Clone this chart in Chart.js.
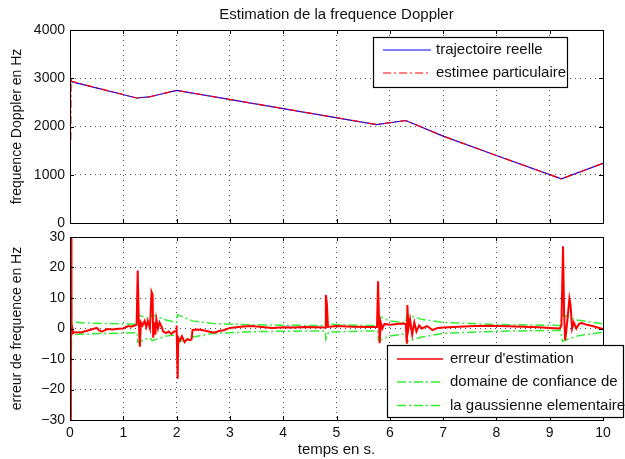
<!DOCTYPE html>
<html>
<head>
<meta charset="utf-8">
<script src="https://cdn.jsdelivr.net/npm/chart.js"></script>
<style>
html, body { margin: 0; padding: 0; background: #fff; }
#wrap { position: relative; width: 625px; height: 459px; }
canvas { position: absolute; left: 0; }
#Chart1 { top: 0; }
#Chart2 { top: 230px; }
</style>
</head>
<body>
<div id="wrap">
    <canvas id="Chart1" width="625" height="230"></canvas>
    <canvas id="Chart2" width="625" height="229"></canvas>
</div>
<script>
// graphe du haut : frequence Doppler
var tVrai = [0, 1.25, 1.48, 2.0, 5.75, 6.3, 7.0, 8.0, 9.22, 10];
var fVrai = [2935, 2591, 2612, 2749, 2041, 2124, 1800, 1400, 914, 1237];
var tEstime = [0.015, 0.02, 0.03, 1.25, 1.48, 2.0, 5.75, 6.3, 7.0, 8.0, 9.22, 10];
var fEstime = [1720, 3010, 2935, 2591, 2612, 2749, 2041, 2124, 1800, 1400, 914, 1237];

// graphe du bas : erreur d'estimation
var tErreur = [0.015, 0.02, 0.025, 0.03, 0.04, 0.06, 0.1, 0.2, 0.3, 0.4, 0.5, 0.55, 0.6, 0.7, 0.8, 0.9, 1.0, 1.05, 1.1, 1.15, 1.2, 1.25,
    1.27, 1.29, 1.31, 1.33, 1.36, 1.4, 1.43, 1.46, 1.5, 1.53, 1.55, 1.56, 1.58, 1.6, 1.62, 1.65, 1.68, 1.72, 1.75, 1.8, 1.85, 1.9, 1.95, 1.99,
    2.0, 2.01, 2.02, 2.03, 2.06, 2.1, 2.15, 2.2, 2.25, 2.28, 2.3, 2.4, 2.5, 2.6, 2.7, 2.8, 2.9, 3.0, 3.2, 3.4, 3.6, 3.8, 4.0, 4.2, 4.4, 4.6,
    4.79, 4.8, 4.82, 4.84, 5.0, 5.3, 5.6, 5.76, 5.78, 5.8, 5.81, 5.83, 5.86, 5.9, 6.0, 6.1, 6.2, 6.3, 6.32, 6.33, 6.35, 6.38, 6.42, 6.46,
    6.5, 6.55, 6.6, 6.7, 6.8, 6.9, 7.0, 7.3, 7.6, 7.9, 8.2, 8.5, 8.8, 9.0, 9.19, 9.22, 9.25, 9.27, 9.29, 9.31, 9.35, 9.37, 9.39, 9.42,
    9.45, 9.5, 9.55, 9.6, 9.7, 9.8, 9.9, 10];
var eErreur = [-30, 30, 3.5, -2, 0.5, -1.5, -1.2, -1.3, -0.8, -0.3, 0.2, -0.6, -1.0, -0.2, -0.3, -0.1, 0.0, 0.5, 0.8, 0.6, 0.9, 1.2,
    19, 3, -6, 2, 1, 2.5, 0.5, 2.5, 0, 12, 11, -3, 2, -2, 3, 0, 2, 0.5, -1, -1.5, -1, -1.8, -1, -1,
    1, -9, -16.5, -3, -4, -2.5, -4.5, -3.5, -3.8, -3.5, -0.5, -0.3, -0.6, -1.0, -1.4, -0.8, -0.5, 0.2, 0.6, 0.8, 0.5, 0.2, 0.4, 0.3, 0.5, 0.4,
    0.3, 11, 8, 0.5, 0.8, 0.6, 0.5, 0.5, 15.5, 1, -4.8, 2, 0, 1.5, 1.2, 1.4, 1.6, 1.5, -5, 7.7, 0, 3, -2, 2,
    -1, 1, 0, 0.8, -0.5, 0.2, 0.3, 0.6, 0.8, 0.9, 0.7, 0.6, 0.4, 0.2, 0.0, 1, 27, 5, -3.8, -1, 6, 9.9, 8, 0,
    2, 0, 1.5, 1.8, 1.2, 0.8, 0.3, -0.2];

// bornes du domaine de confiance
var tBorne = [0.01, 0.015, 0.03, 0.3, 1.0, 1.26, 1.27, 1.5, 1.54, 1.8, 2.0, 2.02, 2.3, 2.7, 3.5, 4.5, 4.79, 4.8, 4.85, 5.5, 5.77, 5.79,
    6.0, 6.3, 6.32, 6.6, 7.0, 8.0, 9.2, 9.24, 9.5, 10];
var bHaute = [-30, 30, 2.2, 1.8, 1.5, 1.4, 4.5, 3.0, 4.5, 2.8, 2.0, 4.5, 2.5, 1.6, 1.2, 1.0, 1.0, 3.5, 1.4, 1.0, 1.0, 4.0,
    2.5, 1.9, 4.5, 3.0, 2.0, 1.3, 1.0, 4.5, 2.8, 1.5];
var bBasse = [30, -30, -2.0, -1.8, -1.5, -1.4, -4.5, -3.0, -4.0, -2.5, -2.0, -4.5, -2.8, -1.6, -1.0, -0.8, -0.8, -3.5, -1.2, -0.8, -0.8, -4.0,
    -2.5, -1.7, -4.2, -2.8, -1.6, -0.9, -0.6, -4.2, -2.5, -1.2];

var xTicks = [0, 1, 2, 3, 4, 5, 6, 7, 8, 9, 10];

Chart.defaults.font.family = "'Liberation Sans', Arial, sans-serif";
Chart.defaults.font.size = 14;
Chart.defaults.color = '#111';

function points(tx, ty) {
    var res = [];
    for (var i = 0; i < tx.length; i++) {
        res.push({ x: tx[i], y: ty[i] });
    }
    return res;
}

var cadrePlugin = {
    id: 'cadre',
    afterDraw: function (chart, args, opts) {
        var ctx = chart.ctx;
        var a = chart.chartArea;
        var xs = chart.scales.x;
        var ys = chart.scales.y;
        ctx.save();
        ctx.strokeStyle = '#000';
        ctx.lineWidth = 1;
        ctx.beginPath();
        xs.ticks.forEach(function (t) {
            var px = Math.round(xs.getPixelForValue(t.value)) + 0.5;
            ctx.moveTo(px, a.bottom); ctx.lineTo(px, a.bottom - 4);
            ctx.moveTo(px, a.top); ctx.lineTo(px, a.top + 4);
        });
        ys.ticks.forEach(function (t) {
            var py = Math.round(ys.getPixelForValue(t.value)) + 0.5;
            ctx.moveTo(a.left, py); ctx.lineTo(a.left + 4, py);
            ctx.moveTo(a.right, py); ctx.lineTo(a.right - 4, py);
        });
        ctx.stroke();
        ctx.strokeRect(Math.round(a.left) + 0.5, Math.round(a.top) + 0.5, Math.round(a.right - a.left), Math.round(a.bottom - a.top));

        var lg = opts.legende;
        if (lg) {
            ctx.fillStyle = '#fff';
            ctx.fillRect(lg.x, lg.y, lg.w, lg.h);
            ctx.strokeStyle = '#000';
            ctx.lineWidth = 1.2;
            ctx.strokeRect(lg.x + 0.5, lg.y + 0.5, lg.w, lg.h);
            ctx.font = "15px 'Liberation Sans', Arial, sans-serif";
            ctx.textBaseline = 'middle';
            ctx.textAlign = 'left';
            lg.lignes.forEach(function (l) {
                var ds = chart.data.datasets[l.ds];
                ctx.beginPath();
                ctx.strokeStyle = ds.borderColor;
                ctx.lineWidth = l.epaisseur || 1;
                ctx.setLineDash(ds.borderDash || []);
                ctx.moveTo(lg.x1, l.y);
                ctx.lineTo(lg.x2, l.y);
                ctx.stroke();
                ctx.setLineDash([]);
                ctx.fillStyle = '#111';
                ctx.fillText(ds.label, lg.xt, l.y);
            });
        }
        ctx.restore();
    }
};

function fixeLargeur(scale) {
    scale.width = 70;
    scale.paddingTop = 0;
    scale.paddingBottom = 0;
}

function sansVirgule(value) {
    return String(value).replace('-', '\u2212');
}

var grille = {
    color: 'rgba(0,0,0,0.7)',
    drawTicks: false
};
var bord = { display: false, dash: [1, 4] };

var Chart1 = new Chart(document.getElementById('Chart1'), {
    type: 'line',
    data: {
        datasets: [{
            label: 'trajectoire reelle',
            data: points(tVrai, fVrai),
            borderColor: '#0000ff',
            borderWidth: 1.2,
            order: 1,
        }, {
            label: 'estimee particulaire',
            data: points(tEstime, fEstime),
            borderColor: '#ff0000',
            borderWidth: 1.2,
            borderDash: [8, 3, 2, 3],
            order: 0,
        }]
    },
    options: {
        responsive: false,
        animation: false,
        elements: { point: { radius: 0 }, line: { tension: 0 } },
        layout: { padding: { left: 0, right: 22, top: 0, bottom: 7 } },
        plugins: {
            legend: { display: false },
            tooltip: { enabled: false },
            title: {
                display: true,
                text: 'Estimation de la frequence Doppler',
                fullSize: false,
                color: '#111',
                font: { size: 15, weight: 'normal' },
                padding: { top: 6, bottom: 6 }
            },
            cadre: {
                legende: {
                    x: 373, y: 37, w: 194, h: 50, x1: 383, x2: 431, xt: 436,
                    lignes: [{ ds: 0, y: 50 }, { ds: 1, y: 73 }]
                }
            }
        },
        scales: {
            x: {
                type: 'linear', min: 0, max: 10,
                afterBuildTicks: function (scale) { scale.ticks = xTicks.map(function (v) { return { value: v }; }); },
                ticks: { display: false },
                grid: grille, border: bord,
                afterFit: function (scale) { scale.height = 0; }
            },
            y: {
                min: 0, max: 4000,
                ticks: { stepSize: 1000, padding: 5, color: '#111', callback: sansVirgule },
                grid: grille, border: bord,
                title: { display: true, text: 'frequence Doppler en Hz', color: '#111', font: { size: 14 }, padding: { top: 9, bottom: 0 } },
                afterFit: fixeLargeur
            }
        }
    },
    plugins: [cadrePlugin]
});

var Chart2 = new Chart(document.getElementById('Chart2'), {
    type: 'line',
    data: {
        datasets: [{
            label: "erreur d'estimation",
            data: points(tErreur, eErreur),
            borderColor: '#ff0000',
            borderWidth: 2,
        }, {
            label: 'domaine de confiance de',
            data: points(tBorne, bHaute),
            borderColor: '#33ee33',
            borderWidth: 1.5,
            borderDash: [9, 3, 2, 3],
        }, {
            label: 'la gaussienne elementaire',
            data: points(tBorne, bBasse),
            borderColor: '#33ee33',
            borderWidth: 1.5,
            borderDash: [9, 3, 2, 3],
        }]
    },
    options: {
        responsive: false,
        animation: false,
        elements: { point: { radius: 0 }, line: { tension: 0 } },
        layout: { padding: { left: 0, right: 22, top: 7, bottom: 0 } },
        plugins: {
            legend: { display: false },
            tooltip: { enabled: false },
            cadre: {
                legende: {
                    x: 387, y: 115, w: 236, h: 72, x1: 397, x2: 443, xt: 450,
                    lignes: [{ ds: 0, y: 129, epaisseur: 1.5 }, { ds: 1, y: 152, epaisseur: 1.5 }, { ds: 2, y: 175.5, epaisseur: 1.5 }]
                }
            }
        },
        scales: {
            x: {
                type: 'linear', min: 0, max: 10,
                afterBuildTicks: function (scale) { scale.ticks = xTicks.map(function (v) { return { value: v }; }); },
                ticks: { padding: 5, color: '#111', maxRotation: 0 },
                grid: grille, border: bord,
                title: { display: true, text: 'temps en s.', color: '#111', font: { size: 15 }, padding: { top: 0, bottom: 0 } },
                afterFit: function (scale) { scale.height = 39; }
            },
            y: {
                min: -30, max: 30,
                ticks: { stepSize: 10, padding: 5, color: '#111', callback: sansVirgule },
                grid: grille, border: bord,
                title: { display: true, text: 'erreur de frequence en Hz', color: '#111', font: { size: 14 }, padding: { top: 9, bottom: 0 } },
                afterFit: fixeLargeur
            }
        }
    },
    plugins: [cadrePlugin]
});
</script>
</body>
</html>
